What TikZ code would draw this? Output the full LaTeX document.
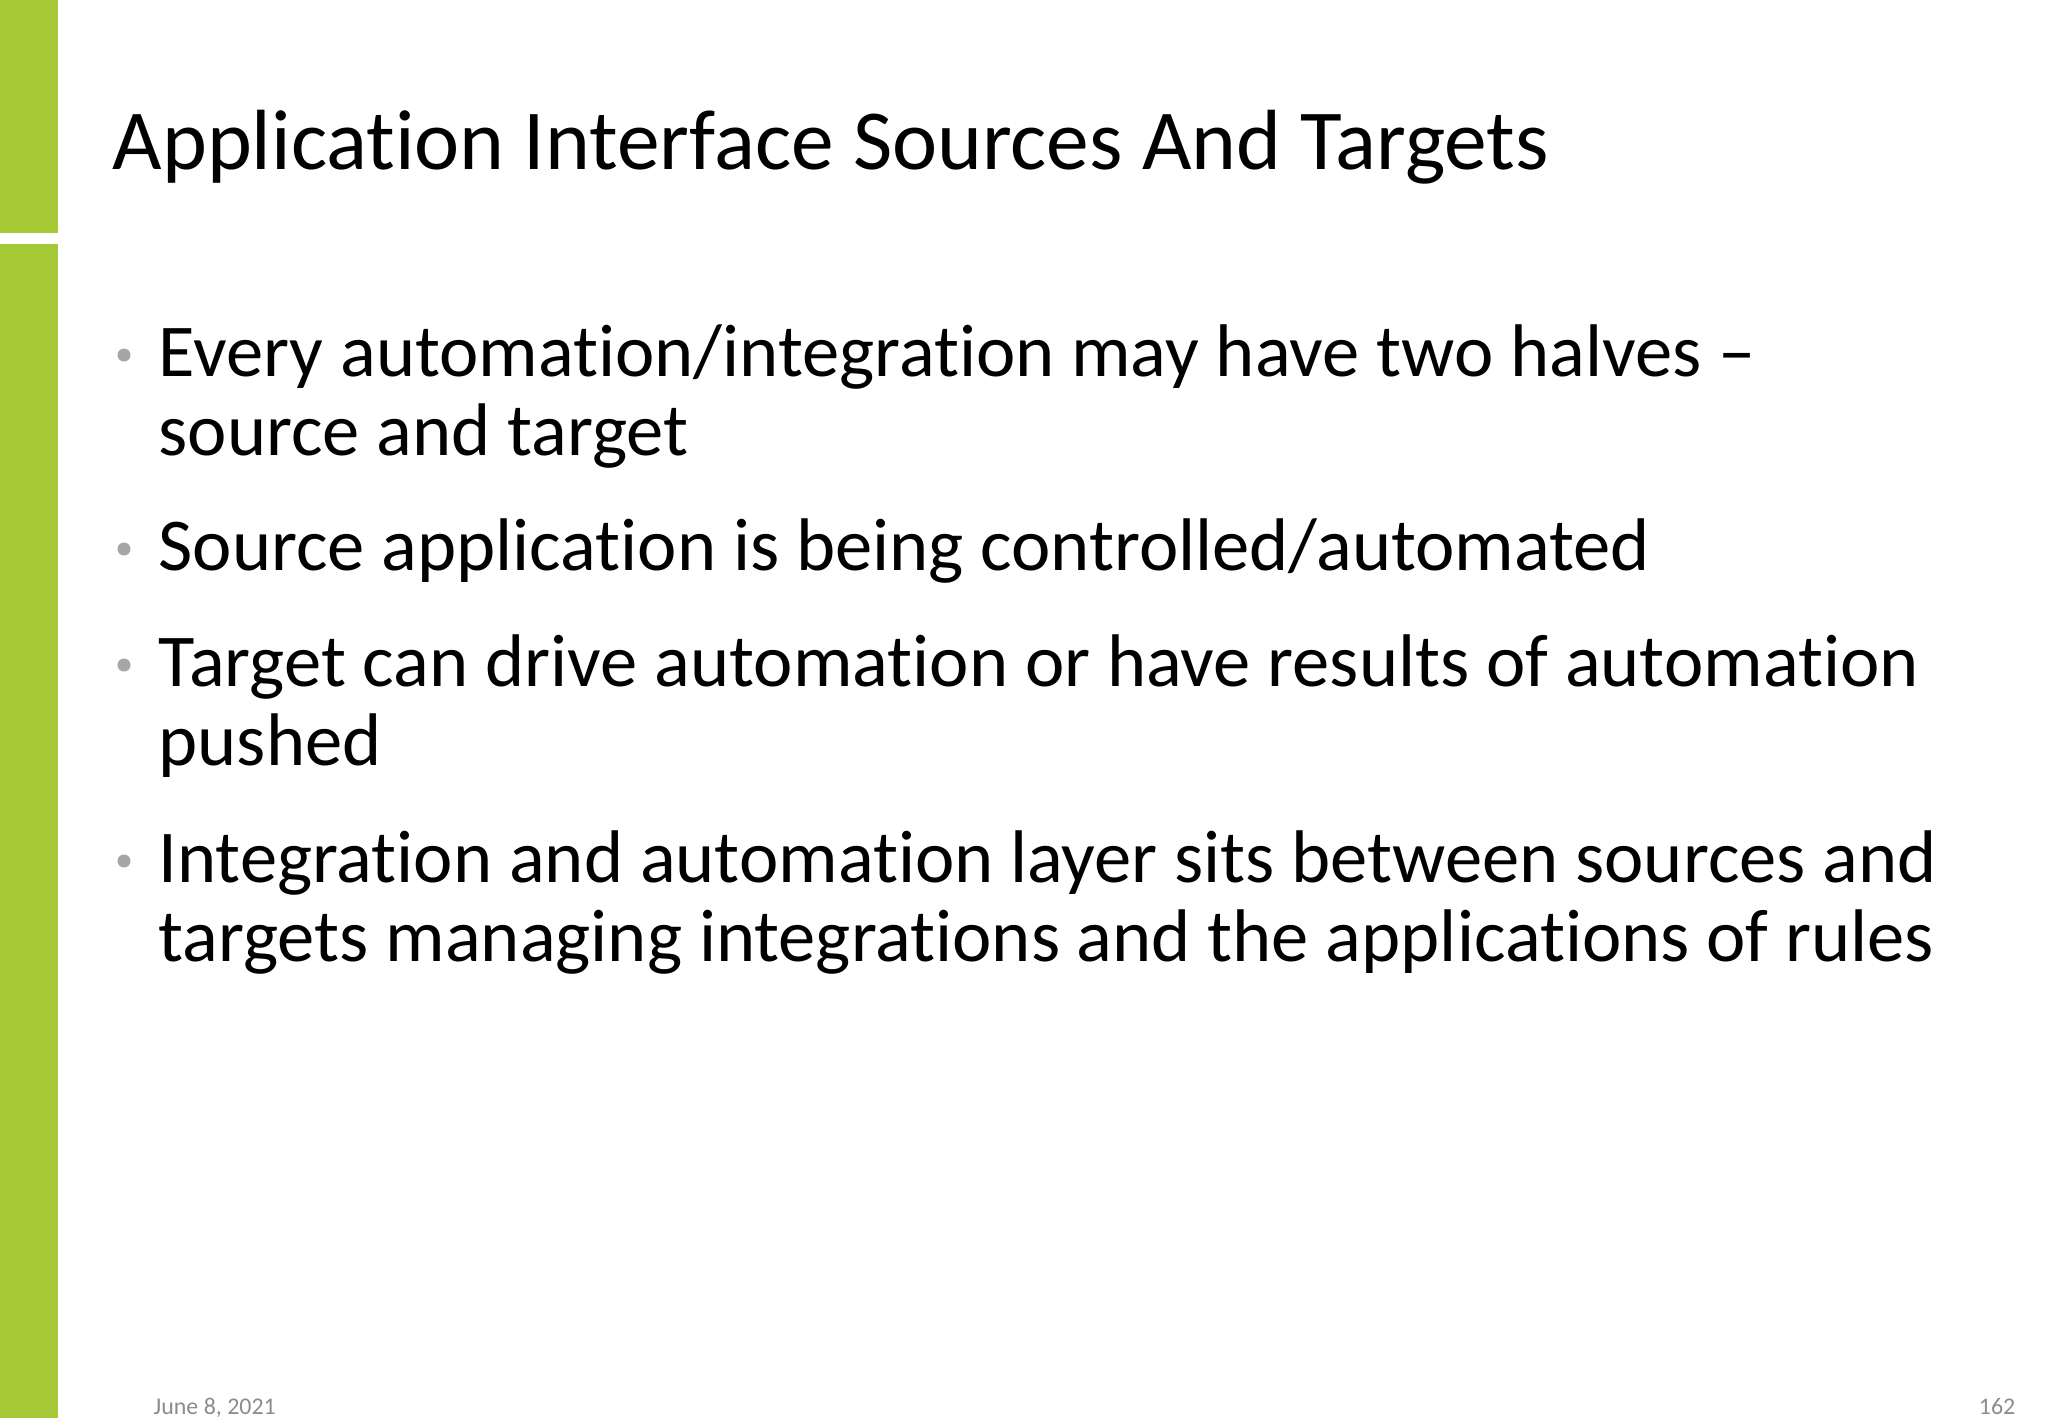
\documentclass[tikz,border=0pt]{standalone}
\usepackage{fontspec}
\setmainfont[RawFeature=-liga]{Carlito}
\definecolor{barg}{HTML}{A5C934}
\definecolor{bulg}{HTML}{A6A6A6}
\definecolor{foot}{HTML}{8C8C8C}
\begin{document}
\begin{tikzpicture}[x=0.01cm,y=-0.01cm,
  txt/.style={anchor=base west,inner sep=0pt,font=\fontsize{21.2pt}{26pt}\selectfont},
  bul/.style={circle,fill=bulg,inner sep=0pt,minimum size=0.13cm}]
\useasboundingbox (0,0) rectangle (2048,1418);
\fill[white] (0,0) rectangle (2048,1418);
\fill[barg] (0,0) rectangle (58,233);
\fill[barg] (0,244) rectangle (58,1418);
\node[anchor=base west,inner sep=0pt,font=\fontsize{24.3pt}{29pt}\selectfont] (title) at (112,169) {Application Interface Sources And Targets};
\node[bul] (b1) at (124,355) {};
\node[txt] (t1) at (158,376) {Every automation/integration may have two halves –};
\node[txt] (t1b) at (158,455) {source and target};
\node[bul] (b2) at (124,549) {};
\node[txt] (t2) at (158,570) {Source application is being controlled/automated};
\node[bul] (b3) at (124,665) {};
\node[txt] (t3) at (158,686) {Target can drive automation or have results of automation};
\node[txt] (t3b) at (158,765) {pushed};
\node[bul] (b4) at (124,861) {};
\node[txt] (t4) at (158,882) {Integration and automation layer sits between sources and};
\node[txt] (t4b) at (158,961) {targets managing integrations and the applications of rules};
\node[anchor=base west,inner sep=0pt,font=\fontsize{6.8pt}{8pt}\selectfont,text=foot] (date) at (153,1414) {June 8, 2021};
\node[anchor=base east,inner sep=0pt,font=\fontsize{6.8pt}{8pt}\selectfont,text=foot] (pg) at (2016,1414) {162};
\end{tikzpicture}
\end{document}
